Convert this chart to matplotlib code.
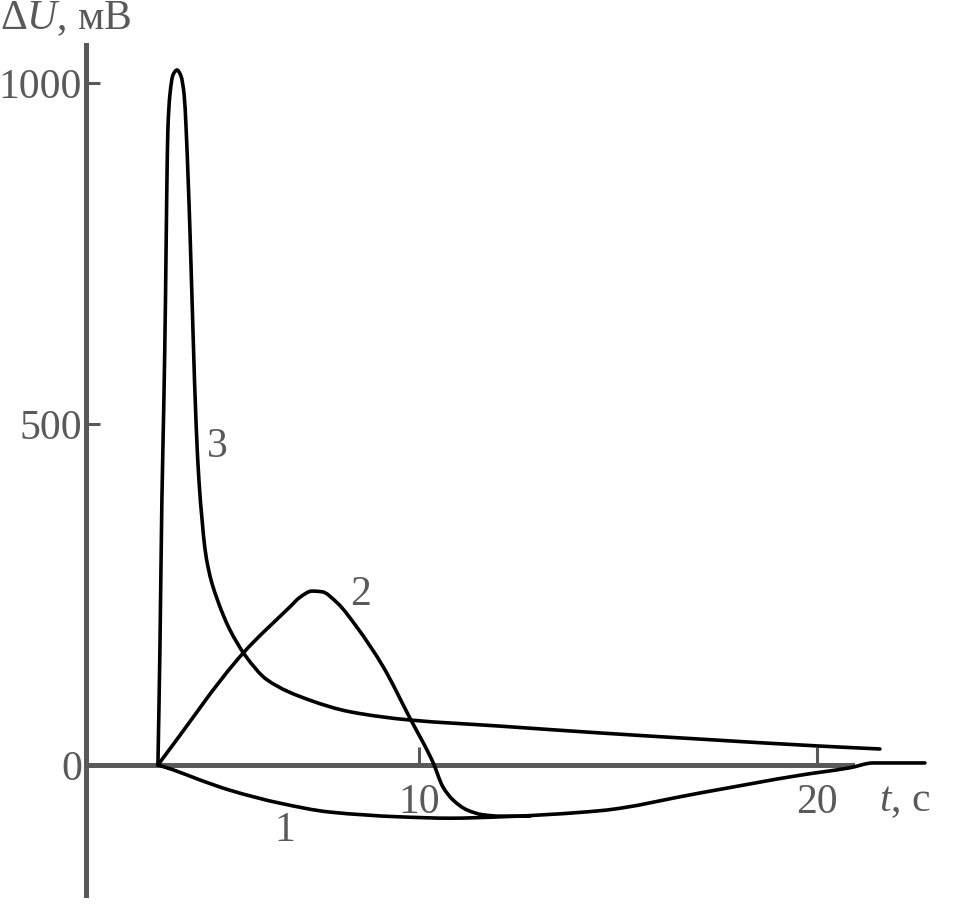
import numpy as np
import matplotlib
matplotlib.use("Agg")
import matplotlib.pyplot as plt
from matplotlib.path import Path
from matplotlib.patches import PathPatch

plt.rcParams['font.family'] = ['Liberation Serif', 'DejaVu Serif']
plt.rcParams['mathtext.fontset'] = 'custom'
plt.rcParams['mathtext.rm'] = 'Liberation Serif'
plt.rcParams['mathtext.it'] = 'Liberation Serif:italic'

# ---- data (t, s ; dU, mV) ----
t3 = [3.44, 3.49, 3.54, 3.59, 3.63, 3.66, 3.69, 3.74, 3.82, 3.92, 4.02, 4.10, 4.15,
      4.20, 4.25, 4.32, 4.40, 4.47, 4.55, 4.62, 4.70, 4.80, 4.93, 5.08, 5.25, 5.63,
      6.18, 7.26, 8.27, 9.77, 12.04, 14.55, 17.06, 20.0, 21.58]
u3 = [0, 169, 389, 535, 682, 828, 931, 982, 1012, 1019, 1010, 982, 931,
      858, 774, 638, 499, 418, 359, 318, 290, 266, 243, 220, 198, 161,
      125, 95, 78, 66, 57, 47, 38, 28, 23.5]

t2 = [3.44, 5.58, 6.76, 7.01, 7.31, 7.56, 7.94, 8.44, 9.10, 9.77, 10.35, 10.60,
      10.85, 11.21, 11.61, 12.04, 12.79]
u2 = [0, 164, 232, 246, 255, 254, 238, 202, 144, 69, 4, -32,
      -51, -66, -73, -75, -75]

t1 = [3.44, 3.82, 4.50, 5.25, 6.51, 7.76, 9.52, 10.78, 12.04, 14.55, 17.06,
      19.57, 20.83, 21.41, 22.71]
u1 = [0, -7, -22, -37, -56, -69, -76, -78, -76, -67, -41,
      -15, -4, 3, 3]

xticks = [10, 20]
xtick_labels = ["10", "20"]
yticks = [0, 500, 1000]
ytick_labels = ["0", "500", "1000"]

curve_labels = [("3", 4.93, 466), ("2", 8.52, 249), ("1", 6.63, -97)]

gray = '#595959'


def smooth_path(x, y):
    """Monotone cubic (Fritsch-Carlson) through the points, as Bezier path."""
    x = np.asarray(x, float)
    y = np.asarray(y, float)
    h = np.diff(x)
    delta = np.diff(y) / h
    n = len(x)
    d = np.zeros(n)
    d[0] = delta[0]
    d[-1] = delta[-1]
    for k in range(1, n - 1):
        if delta[k - 1] * delta[k] <= 0:
            d[k] = 0.0
        else:
            w1 = 2 * h[k] + h[k - 1]
            w2 = h[k] + 2 * h[k - 1]
            d[k] = (w1 + w2) / (w1 / delta[k - 1] + w2 / delta[k])
    verts = [(x[0], y[0])]
    codes = [Path.MOVETO]
    for k in range(n - 1):
        c1 = (x[k] + h[k] / 3, y[k] + d[k] * h[k] / 3)
        c2 = (x[k + 1] - h[k] / 3, y[k + 1] - d[k + 1] * h[k] / 3)
        verts += [c1, c2, (x[k + 1], y[k + 1])]
        codes += [Path.CURVE4] * 3
    return Path(verts, codes)


fig = plt.figure(figsize=(9.71, 9.08), dpi=100)
ax = fig.add_axes([86/971, 13/908, (852-86)/971, (895-45)/908])
ax.set_xlim(1.633, 20.879)
ax.set_ylim(-190.6, 1055.7)

for t, u in [(t1, u1), (t2, u2), (t3, u3)]:
    ax.add_patch(PathPatch(smooth_path(t, u), fill=False, edgecolor='black',
                           lw=2.6, joinstyle='round', capstyle='round',
                           clip_on=False, zorder=3))

for s in ['top', 'right']:
    ax.spines[s].set_visible(False)
ax.spines['bottom'].set_position(('data', 0))
for s in ['left', 'bottom']:
    ax.spines[s].set_linewidth(3.6)
    ax.spines[s].set_color(gray)

ax.set_xticks(xticks)
ax.set_xticklabels(xtick_labels)
ax.set_yticks(yticks)
ax.set_yticklabels(ytick_labels)
ax.tick_params(axis='y', direction='in', length=10, width=2.2, color=gray,
               pad=3, labelsize=30, labelcolor=gray)
ax.tick_params(axis='x', direction='in', length=13, width=2.2, color=gray,
               pad=13, labelsize=30, labelcolor=gray)

for lab, t, u in curve_labels:
    ax.text(t, u, lab, fontsize=30, color=gray, ha='center', va='center')

fig.text(0/971, 1 - 19/908, "Δ$U$, мВ", fontsize=30, color=gray,
         ha='left', va='center')
fig.text(879/971, 1 - 801/908, "$t$, с", fontsize=30, color=gray,
         ha='left', va='center')

fig.savefig("out.png", dpi=100)
